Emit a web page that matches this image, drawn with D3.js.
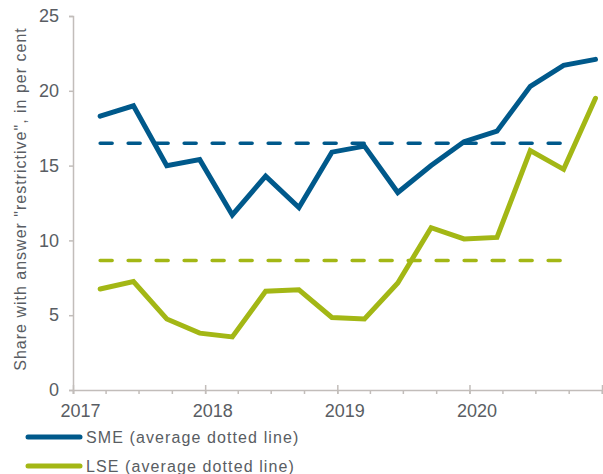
<!DOCTYPE html>
<html>
<head>
<meta charset="utf-8">
<script src="https://cdn.jsdelivr.net/npm/d3@7"></script>
<style>
  body { margin: 0; background: #fff; }
  text { font-family: "Liberation Sans", Arial, sans-serif; fill: #595d63; }
</style>
</head>
<body>
<svg id="chart" width="603" height="474"></svg>
<script>
// survey dates, one per quarter
const dates = [
  '2017-03-17', '2017-06-17', '2017-09-17', '2017-12-17',
  '2018-03-17', '2018-06-17', '2018-09-17', '2018-12-17',
  '2019-03-17', '2019-06-17', '2019-09-17', '2019-12-17',
  '2020-03-17', '2020-06-17', '2020-09-17', '2020-12-14'
];
const smeValues = [18.3, 19.0, 15.0, 15.4, 11.7, 14.3, 12.2, 15.9, 16.3, 13.2, 15.0, 16.6, 17.3, 20.3, 21.7, 22.1];
const lseValues = [6.75, 7.25, 4.75, 3.8, 3.55, 6.6, 6.7, 4.85, 4.75, 7.15, 10.85, 10.1, 10.2, 16.0, 14.75, 19.5];
const smeAverage = 16.5;
const lseAverage = 8.65;
const yTicks = [0, 5, 10, 15, 20, 25];
const yearLabels = ['2017', '2018', '2019', '2020'];
const seriesNames = ['SME (average dotted line)', 'LSE (average dotted line)'];
const colors = ['#00598b', '#a3b715'];

const parse = d3.timeParse('%Y-%m-%d');
const svg = d3.select('#chart');

const x = d3.scaleTime()
    .domain([new Date(2017, 0, 1), new Date(2021, 0, 1)])
    .range([73, 602]);
const y = d3.scaleLinear()
    .domain([0, 25])
    .range([390, 16]);

const axisColor = '#c2bdba';

// y axis
const yAxis = svg.append('g')
    .attr('transform', 'translate(73,0)')
    .call(d3.axisLeft(y).tickValues(yTicks).tickSize(4).tickPadding(10));
yAxis.select('.domain').attr('stroke', axisColor).attr('stroke-width', 1.5);
yAxis.selectAll('.tick line').attr('stroke', axisColor).attr('stroke-width', 1.5);
yAxis.selectAll('.tick text')
    .style('font-size', '18px')
    .attr('fill', '#595d63');

// x axis: quarterly minor ticks, yearly major ticks
const xAxisMinor = svg.append('g')
    .attr('transform', 'translate(0,390)')
    .call(d3.axisBottom(x).ticks(d3.timeMonth.every(3)).tickSize(4).tickFormat(''));
xAxisMinor.select('.domain').attr('stroke', axisColor).attr('stroke-width', 1.5);
xAxisMinor.selectAll('.tick line').attr('stroke', axisColor).attr('stroke-width', 1.5);

const fmtYear = d3.timeFormat('%Y');
const xAxisMajor = svg.append('g')
    .attr('transform', 'translate(0,390)')
    .call(d3.axisBottom(x).ticks(d3.timeYear.every(1)).tickSize(4)
        .tickFormat(d => yearLabels.includes(fmtYear(d)) ? fmtYear(d) : '')
        .tickPadding(10));
xAxisMajor.select('.domain').remove();
xAxisMajor.selectAll('.tick line')
    .attr('y1', -5)
    .attr('stroke', axisColor).attr('stroke-width', 1.5);
xAxisMajor.selectAll('.tick text')
    .attr('dx', 7)
    .style('font-size', '18px')
    .attr('fill', '#595d63');

// y axis title
svg.append('text')
    .attr('transform', 'translate(26,199) rotate(-90)')
    .attr('text-anchor', 'middle')
    .style('font-size', '16px')
    .style('letter-spacing', '1px')
    .text('Share with answer "restrictive", in per cent');

// average lines
const avgLines = [smeAverage, lseAverage];
avgLines.forEach((v, i) => {
    svg.append('line')
        .attr('x1', x(parse(dates[0])))
        .attr('x2', x(parse(dates[dates.length - 2])))
        .attr('y1', y(v))
        .attr('y2', y(v))
        .attr('stroke', colors[i])
        .attr('stroke-width', 3.5)
        .attr('stroke-linecap', 'round')
        .attr('stroke-dasharray', '12,16');
});

// series lines
const line = d3.line()
    .x((d, i) => x(parse(dates[i])))
    .y(d => y(d));

[smeValues, lseValues].forEach((vals, i) => {
    svg.append('path')
        .datum(vals)
        .attr('d', line)
        .attr('fill', 'none')
        .attr('stroke', colors[i])
        .attr('stroke-width', 5)
        .attr('stroke-linejoin', 'miter')
        .attr('stroke-linecap', 'round');
});

// legend
const legend = svg.append('g');
seriesNames.forEach((name, i) => {
    const ly = 437 + i * 29;
    legend.append('line')
        .attr('x1', 28).attr('x2', 80)
        .attr('y1', ly).attr('y2', ly)
        .attr('stroke', colors[i])
        .attr('stroke-width', 5)
        .attr('stroke-linecap', 'round');
    legend.append('text')
        .attr('x', 86)
        .attr('y', ly + 6)
        .style('font-size', '16px')
        .style('letter-spacing', '1.1px')
        .text(name);
});
</script>
</body>
</html>
